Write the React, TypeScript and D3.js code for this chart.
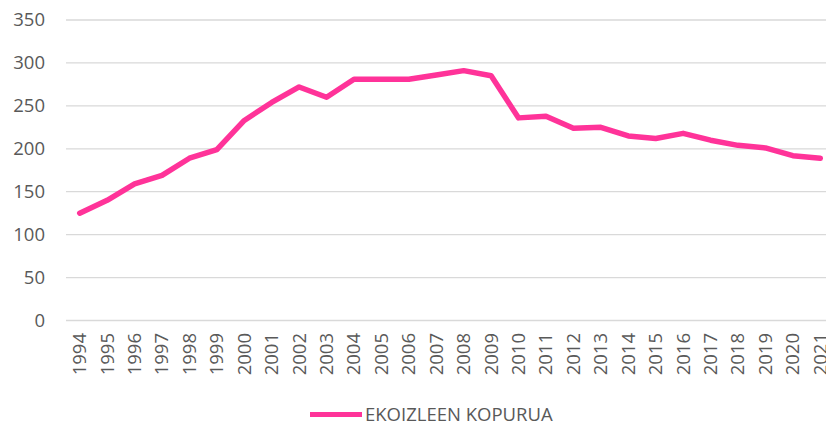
import { useEffect, useRef } from 'react';
import * as d3 from 'd3';

const years = [
  '1994', '1995', '1996', '1997', '1998', '1999', '2000', '2001', '2002', '2003',
  '2004', '2005', '2006', '2007', '2008', '2009', '2010', '2011', '2012', '2013',
  '2014', '2015', '2016', '2017', '2018', '2019', '2020', '2021',
];
const producers = [
  125, 140, 159, 169, 189, 199, 233, 254, 272, 260,
  281, 281, 281, 286, 291, 285, 236, 238, 224, 225,
  215, 212, 218, 210, 204, 201, 192, 189,
];
const yTicks = [0, 50, 100, 150, 200, 250, 300, 350];
const seriesName = 'EKOIZLEEN KOPURUA';

const width = 826;
const height = 425;
const margin = { top: 20, left: 66, bottom: 104.5, right: 0 };
const pink = '#ff3399';
const textColor = '#595959';
const font = '"Open Sans", sans-serif';
const fontSize = 18.5;

export default function App() {
  const svgRef = useRef<SVGSVGElement>(null);

  useEffect(() => {
    if (!svgRef.current) return;
    const svg = d3.select(svgRef.current);
    svg.selectAll('*').remove();

    // plot is cropped on the right in the original, so the band runs past the edge
    const x = d3.scaleBand<string>()
      .domain(years)
      .range([margin.left, 834]);
    const y = d3.scaleLinear()
      .domain([0, 350])
      .range([height - margin.bottom, margin.top]);

    // gridlines
    svg.append('g')
      .selectAll('line')
      .data(yTicks)
      .enter()
      .append('line')
      .attr('x1', margin.left)
      .attr('x2', width)
      .attr('y1', d => y(d))
      .attr('y2', d => y(d))
      .attr('stroke', '#d9d9d9')
      .attr('stroke-width', 1.3);

    // y labels
    svg.append('g')
      .selectAll('text')
      .data(yTicks)
      .enter()
      .append('text')
      .attr('x', 45)
      .attr('y', d => y(d))
      .attr('dy', '0.35em')
      .attr('text-anchor', 'end')
      .attr('font-family', font)
      .attr('font-size', fontSize)
      .attr('fill', textColor)
      .text(d => d);

    // x labels (rotated)
    svg.append('g')
      .selectAll('text')
      .data(years)
      .enter()
      .append('text')
      .attr('transform', d => `translate(${x(d)! + x.bandwidth() / 2},${y(0) + 12.5}) rotate(-90)`)
      .attr('dy', '0.35em')
      .attr('text-anchor', 'end')
      .attr('font-family', font)
      .attr('font-size', fontSize)
      .attr('fill', textColor)
      .text(d => d);

    // line
    const line = d3.line<number>()
      .x((_, i) => x(years[i])! + x.bandwidth() / 2)
      .y(d => y(d));

    svg.append('path')
      .datum(producers)
      .attr('d', line)
      .attr('fill', 'none')
      .attr('stroke', pink)
      .attr('stroke-width', 5.5)
      .attr('stroke-linejoin', 'round')
      .attr('stroke-linecap', 'round');

    // legend
    const lg = svg.append('g').attr('transform', 'translate(310,414.5)');
    lg.append('line')
      .attr('x1', 0)
      .attr('x2', 52)
      .attr('stroke', pink)
      .attr('stroke-width', 5);
    lg.append('text')
      .attr('x', 55)
      .attr('dy', '0.35em')
      .attr('font-family', font)
      .attr('font-size', fontSize)
      .attr('fill', textColor)
      .text(seriesName);
  }, []);

  return (
    <svg
      ref={svgRef}
      width={width}
      height={height}
      style={{ position: 'absolute', left: 0, top: 0, background: '#fff' }}
    />
  );
}
